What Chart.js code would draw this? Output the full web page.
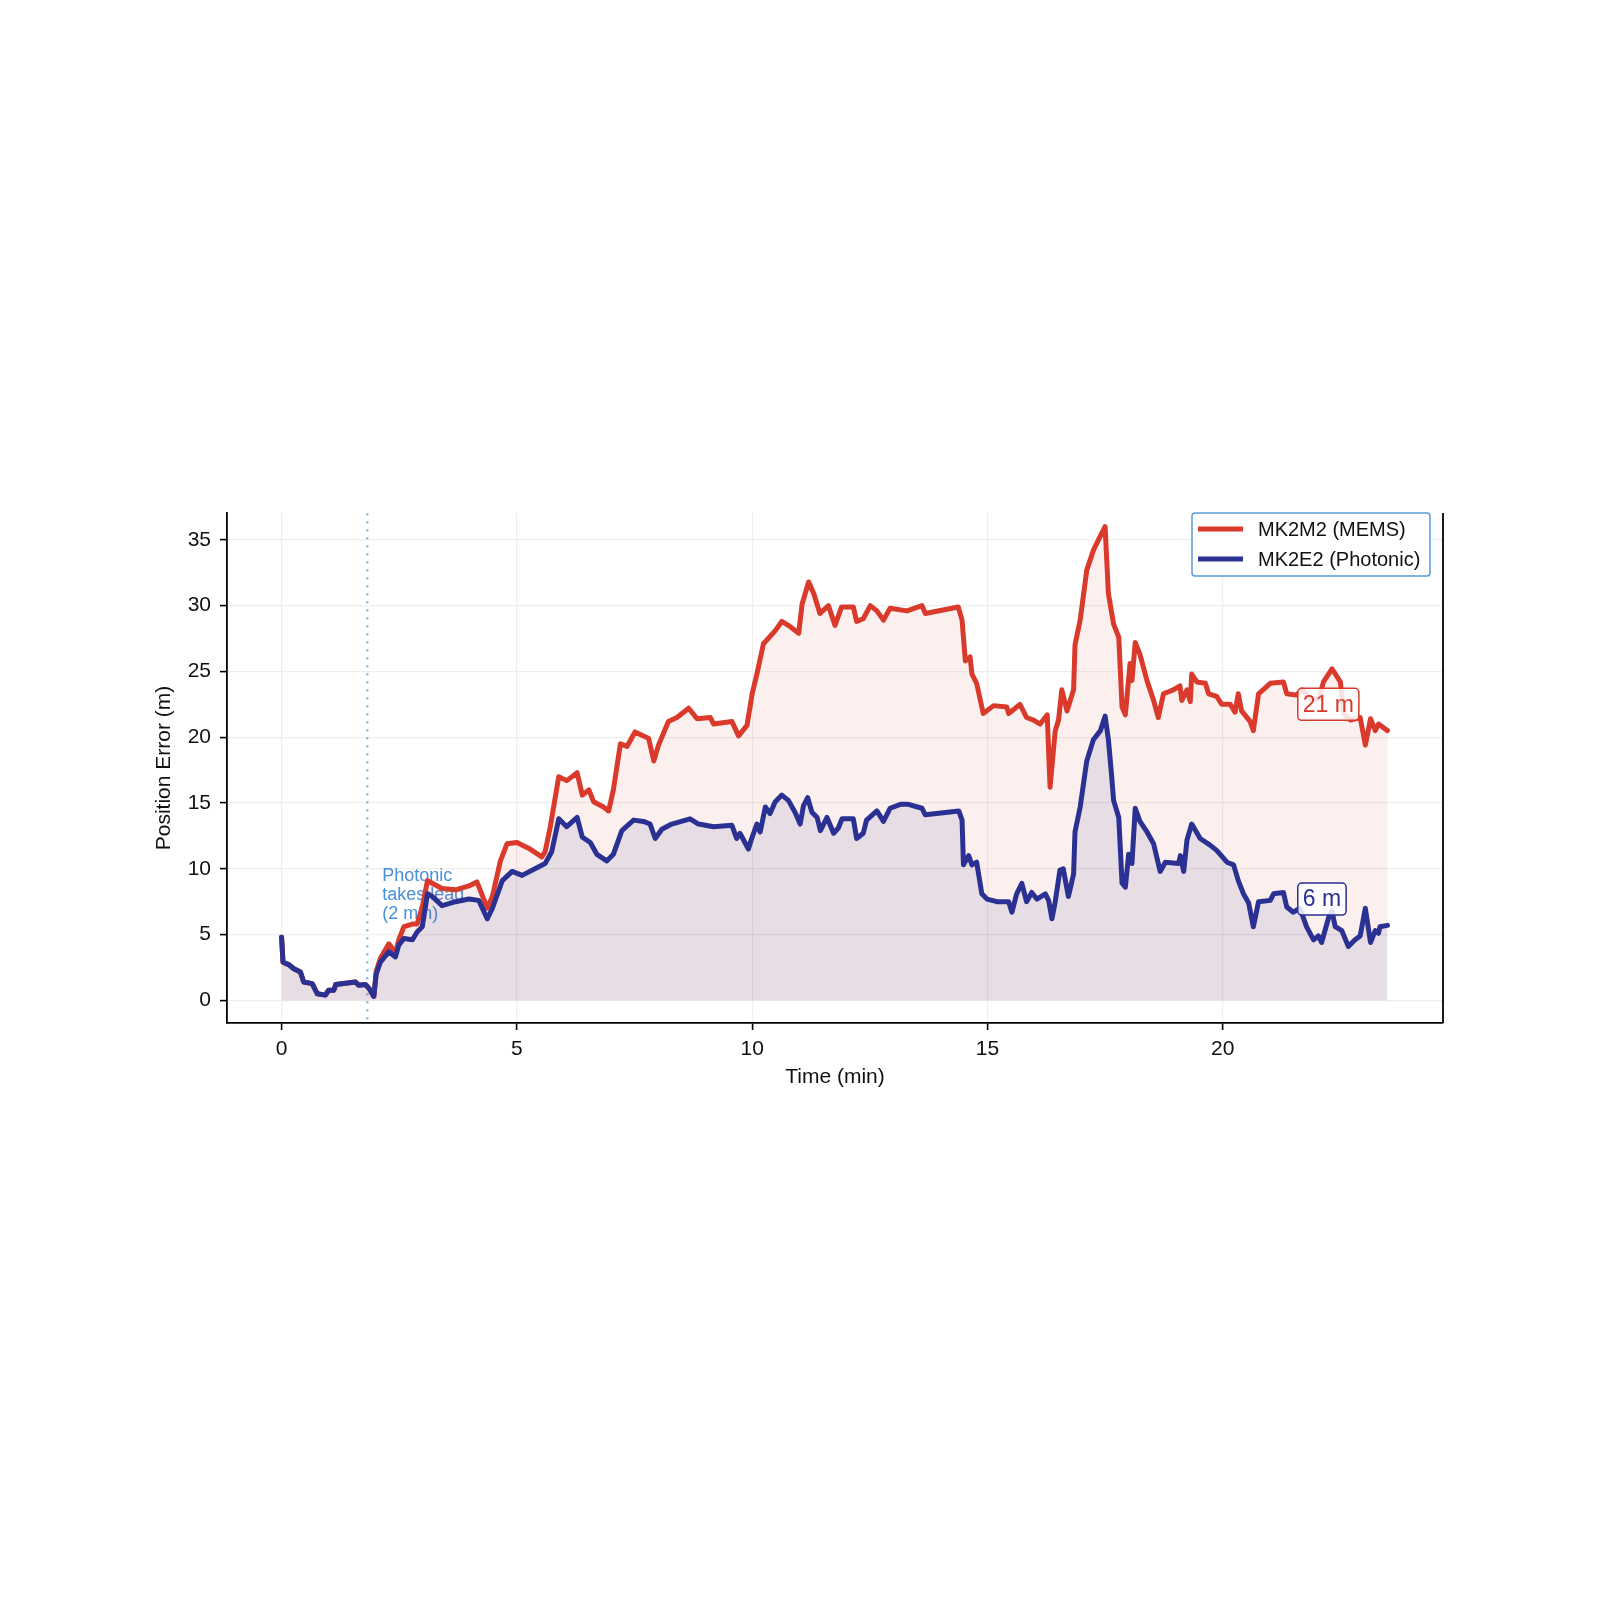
<!DOCTYPE html>
<html>
<head>
<meta charset="utf-8">
<script src="https://cdn.jsdelivr.net/npm/chart.js@4.4.1/dist/chart.umd.min.js"></script>
<style>
  html, body { margin: 0; padding: 0; background: #fff; }
  #wrap { width: 1600px; height: 1600px; }
</style>
</head>
<body>
<div id="wrap"><canvas id="chart"></canvas></div>
<script>
// MK2M2 (MEMS) position error
const memsTime = [0, 0.03, 0.16, 0.26, 0.4, 0.47, 0.65, 0.76, 0.93, 1.0, 1.11, 1.15, 1.57, 1.64, 1.78, 1.86, 1.96,
  2.01, 2.1, 2.28, 2.42, 2.49, 2.6, 2.78, 2.88, 2.99, 3.1, 3.2, 3.41, 3.7, 3.98, 4.15, 4.22, 4.37, 4.48, 4.65, 4.79,
  5.0, 5.28, 5.53, 5.6, 5.71, 5.89, 6.06, 6.28, 6.39, 6.53, 6.63, 6.84, 6.95, 7.05, 7.2, 7.34, 7.51, 7.69, 7.8, 7.91,
  8.01, 8.22, 8.4, 8.65, 8.83, 9.11, 9.18, 9.57, 9.71, 9.89, 10.0, 10.1, 10.24, 10.49, 10.63, 10.81, 10.99, 11.06,
  11.2, 11.31, 11.44, 11.62, 11.76, 11.9, 12.15, 12.22, 12.36, 12.51, 12.65, 12.79, 12.93, 13.29, 13.61, 13.68,
  14.38, 14.46, 14.53, 14.63, 14.67, 14.77, 14.91, 15.13, 15.41, 15.45, 15.69, 15.83, 15.98, 16.12, 16.27, 16.33,
  16.44, 16.51, 16.58, 16.69, 16.83, 16.86, 16.97, 17.11, 17.25, 17.4, 17.5, 17.57, 17.68, 17.79, 17.86, 17.93,
  18.03, 18.07, 18.14, 18.24, 18.39, 18.53, 18.63, 18.74, 18.95, 19.09, 19.13, 19.24, 19.31, 19.34, 19.45, 19.63,
  19.7, 19.87, 19.98, 20.16, 20.26, 20.33, 20.4, 20.58, 20.65, 20.76, 21.01, 21.29, 21.36, 21.57, 21.68, 21.9,
  22.05, 22.14, 22.32, 22.5, 22.57, 22.71, 22.92, 23.03, 23.14, 23.24, 23.31, 23.5];
const memsError = [4.8, 2.9, 2.7, 2.4, 2.15, 1.4, 1.27, 0.5, 0.4, 0.77, 0.77, 1.2, 1.4, 1.15, 1.2, 0.9, 0.3,
  2.2, 3.2, 4.3, 3.6, 4.6, 5.6, 5.8, 5.8, 7.1, 9.1, 8.9, 8.5, 8.4, 8.7, 9.0, 8.4, 7.0, 7.9, 10.6, 11.9,
  12.0, 11.5, 10.9, 11.3, 13.2, 17.0, 16.7, 17.3, 15.6, 16.0, 15.1, 14.7, 14.4, 16.0, 19.5, 19.3, 20.4, 20.1, 19.9, 18.2,
  19.4, 21.2, 21.5, 22.2, 21.4, 21.5, 21.0, 21.2, 20.1, 20.9, 23.3, 24.8, 27.1, 28.1, 28.8, 28.4, 27.9, 30.1,
  31.8, 30.9, 29.4, 30.0, 28.5, 29.9, 29.9, 28.8, 29.0, 30.0, 29.6, 28.9, 29.8, 29.6, 30.0, 29.4,
  29.9, 28.9, 25.8, 26.1, 24.8, 24.1, 21.8, 22.4, 22.3, 21.8, 22.5, 21.5, 21.3, 21.0, 21.7, 16.2,
  20.5, 21.3, 23.6, 22.0, 23.6, 27.0, 28.9, 32.7, 34.2, 35.3, 36.0, 30.9, 28.6, 27.6, 22.3, 21.7,
  25.6, 24.3, 27.2, 26.3, 24.3, 22.8, 21.5, 23.3, 23.6, 23.9, 22.8, 23.6, 22.7, 24.8, 24.2, 24.1,
  23.3, 23.1, 22.5, 22.5, 21.9, 23.3, 22.0, 21.2, 20.5, 23.3, 24.1, 24.2, 23.3, 23.2, 23.6, 22.8,
  23.0, 24.2, 25.2, 24.2, 21.8, 21.3, 21.5, 19.4, 21.4, 20.5, 21.0, 20.5];

// MK2E2 (Photonic) position error
const photTime = [0, 0.03, 0.16, 0.26, 0.4, 0.47, 0.65, 0.76, 0.93, 1.0, 1.11, 1.15, 1.57, 1.64, 1.78, 1.86, 1.96,
  2.01, 2.1, 2.28, 2.42, 2.49, 2.6, 2.78, 2.88, 2.99, 3.1, 3.2, 3.41, 3.7, 3.98, 4.19, 4.37, 4.48, 4.69, 4.9, 5.11,
  5.6, 5.74, 5.89, 6.06, 6.28, 6.39, 6.56, 6.7, 6.91, 7.05, 7.23, 7.48, 7.69, 7.83, 7.94, 8.08, 8.29, 8.68, 8.86,
  9.18, 9.57, 9.67, 9.74, 9.92, 9.99, 10.1, 10.17, 10.28, 10.38, 10.49, 10.63, 10.77, 10.91, 11.02, 11.09, 11.18,
  11.27, 11.38, 11.45, 11.59, 11.73, 11.83, 11.91, 12.15, 12.22, 12.36, 12.43, 12.65, 12.79, 12.93, 13.15, 13.32,
  13.61, 13.68, 14.39, 14.46, 14.49, 14.6, 14.67, 14.77, 14.88, 14.99, 15.2, 15.45, 15.52, 15.62, 15.73, 15.83,
  15.94, 16.05, 16.23, 16.3, 16.37, 16.44, 16.54, 16.61, 16.72, 16.83, 16.86, 16.97, 17.11, 17.25, 17.4, 17.5,
  17.57, 17.64, 17.68, 17.79, 17.86, 17.93, 18.0, 18.07, 18.14, 18.24, 18.39, 18.53, 18.67, 18.78, 19.06, 19.1,
  19.17, 19.24, 19.34, 19.52, 19.73, 19.87, 20.09, 20.23, 20.33, 20.44, 20.55, 20.65, 20.76, 21.01, 21.08, 21.29,
  21.36, 21.5, 21.64, 21.78, 21.93, 22.03, 22.1, 22.25, 22.32, 22.39, 22.53, 22.67, 22.81, 22.92, 23.03, 23.14,
  23.24, 23.31, 23.34, 23.5];
const photError = [4.8, 2.9, 2.7, 2.4, 2.15, 1.4, 1.27, 0.5, 0.4, 0.77, 0.77, 1.2, 1.4, 1.15, 1.2, 0.9, 0.3,
  2.0, 2.9, 3.7, 3.3, 4.2, 4.7, 4.6, 5.2, 5.6, 8.1, 7.9, 7.2, 7.5, 7.7, 7.6, 6.2, 7.0, 9.1, 9.8, 9.5,
  10.4, 11.3, 13.8, 13.2, 13.9, 12.4, 12.0, 11.1, 10.6, 11.1, 12.9, 13.7, 13.6, 13.4, 12.3, 13.0, 13.4, 13.8, 13.4,
  13.2, 13.3, 12.3, 12.7, 11.5, 12.3, 13.4, 12.8, 14.7, 14.2, 15.1, 15.6, 15.2, 14.3, 13.4, 14.8, 15.4,
  14.3, 13.9, 12.9, 13.9, 12.7, 13.1, 13.8, 13.8, 12.3, 12.7, 13.7, 14.4, 13.6, 14.6, 14.9, 14.9,
  14.6, 14.1, 14.4, 13.7, 10.3, 11.0, 10.3, 10.5, 8.1, 7.7, 7.5, 7.5, 6.7, 8.1, 8.9, 7.5,
  8.2, 7.7, 8.1, 7.6, 6.2, 7.5, 9.9, 10.0, 7.9, 9.6, 12.8, 14.7, 18.2, 19.8, 20.5, 21.6,
  19.8, 17.0, 15.2, 13.9, 8.9, 8.6, 11.1, 10.4, 14.6, 13.6, 12.8, 11.9, 9.8, 10.5, 10.4, 11.0,
  9.8, 12.2, 13.4, 12.3, 11.8, 11.4, 10.5, 10.3, 9.1, 8.1, 7.4, 5.6, 7.5, 7.6, 8.1, 8.2,
  7.1, 6.7, 7.0, 5.6, 4.6, 4.9, 4.4, 6.3, 6.8, 5.6, 5.3, 4.1, 4.6, 4.9, 7.0, 4.4,
  5.3, 5.1, 5.6, 5.7];

const seriesNames = ['MK2M2 (MEMS)', 'MK2E2 (Photonic)'];
const seriesColors = ['#d93a2c', '#2b3192'];
const seriesFills = ['rgba(217,58,44,0.08)', 'rgba(43,49,146,0.10)'];

const xTicks = [0, 5, 10, 15, 20];
const yTicks = [0, 5, 10, 15, 20, 25, 30, 35];
const xRange = [-1.16, 24.68];
const yRange = [-1.72, 37.04];

// annotation: when the photonic unit takes the lead
const leadTime = 1.82;
const leadNote = ['Photonic', 'takes lead', '(2 min)'];
const leadNoteAt = [2.14, 9.1];

// final error labels
const endLabels = ['21 m', '6 m'];
const endLabelTime = 21.7;
const endLabelLevels = [22.5, 7.7];

const FONT = '"Liberation Sans", Arial, Helvetica, sans-serif';
Chart.defaults.font.family = FONT;
Chart.defaults.color = '#111';

const zip = (ts, vs) => ts.map((t, i) => ({x: t, y: vs[i]}));

const overlay = {
  id: 'overlay',
  beforeDatasetsDraw(chart) {
    const {ctx, chartArea, scales: {x, y}} = chart;
    ctx.save();
    const px = x.getPixelForValue(leadTime);
    ctx.strokeStyle = 'rgba(74,144,217,0.55)';
    ctx.lineWidth = 2.5;
    ctx.setLineDash([2.5, 5.5]);
    ctx.beginPath();
    ctx.moveTo(px, chartArea.top);
    ctx.lineTo(px, chartArea.bottom);
    ctx.stroke();
    ctx.setLineDash([]);

    ctx.fillStyle = '#4a90d9';
    ctx.font = '18px ' + FONT;
    ctx.textAlign = 'left';
    ctx.textBaseline = 'alphabetic';
    const nx = x.getPixelForValue(leadNoteAt[0]);
    const ny = y.getPixelForValue(leadNoteAt[1]);
    leadNote.forEach((line, i) => ctx.fillText(line, nx, ny + i * 19));
    ctx.restore();
  },
  afterDraw(chart) {
    const {ctx, chartArea, scales: {x, y}} = chart;
    ctx.save();

    // right spine
    ctx.strokeStyle = '#000';
    ctx.lineWidth = 1.8;
    ctx.beginPath();
    ctx.moveTo(chartArea.right, chartArea.top);
    ctx.lineTo(chartArea.right, chartArea.bottom);
    ctx.stroke();

    // end value labels
    ctx.font = '23px ' + FONT;
    ctx.textBaseline = 'middle';
    ctx.textAlign = 'left';
    endLabels.forEach((txt, i) => {
      const tx = x.getPixelForValue(endLabelTime);
      const ty = y.getPixelForValue(endLabelLevels[i]);
      const w = ctx.measureText(txt).width;
      ctx.beginPath();
      ctx.roundRect(tx - 5, ty - 16, w + 10, 32, 4);
      ctx.fillStyle = 'rgba(255,255,255,0.85)';
      ctx.fill();
      ctx.strokeStyle = seriesColors[i];
      ctx.lineWidth = 1.5;
      ctx.stroke();
      ctx.fillStyle = seriesColors[i];
      ctx.fillText(txt, tx, ty + 1);
    });

    // legend
    const lw = 238, lh = 63;
    const lx = chartArea.right - 13 - lw, ly = chartArea.top;
    ctx.beginPath();
    ctx.roundRect(lx, ly, lw, lh, 3);
    ctx.fillStyle = '#fff';
    ctx.fill();
    ctx.strokeStyle = '#5b9bd5';
    ctx.lineWidth = 1.5;
    ctx.stroke();
    ctx.font = '20px ' + FONT;
    seriesNames.forEach((name, i) => {
      const rowY = ly + 16 + i * 30;
      ctx.strokeStyle = seriesColors[i];
      ctx.lineWidth = 5;
      ctx.beginPath();
      ctx.moveTo(lx + 6, rowY);
      ctx.lineTo(lx + 51, rowY);
      ctx.stroke();
      ctx.fillStyle = '#111';
      ctx.fillText(name, lx + 66, rowY + 1);
    });
    ctx.restore();
  }
};

new Chart(document.getElementById('chart'), {
  type: 'line',
  data: {
    datasets: [
      {
        label: seriesNames[0],
        data: zip(memsTime, memsError),
        borderColor: seriesColors[0],
        backgroundColor: seriesFills[0],
        fill: 'origin',
        borderWidth: 5,
        pointRadius: 0,
        tension: 0,
        borderJoinStyle: 'round',
        borderCapStyle: 'round',
        order: 2
      },
      {
        label: seriesNames[1],
        data: zip(photTime, photError),
        borderColor: seriesColors[1],
        backgroundColor: seriesFills[1],
        fill: 'origin',
        borderWidth: 5,
        pointRadius: 0,
        tension: 0,
        borderJoinStyle: 'round',
        borderCapStyle: 'round',
        order: 1
      }
    ]
  },
  options: {
    responsive: true,
    maintainAspectRatio: false,
    devicePixelRatio: 1,
    animation: false,
    layout: { padding: { left: 140, top: 513, right: 157, bottom: 497 } },
    plugins: {
      legend: { display: false },
      tooltip: { enabled: false }
    },
    scales: {
      x: {
        type: 'linear',
        min: xRange[0],
        max: xRange[1],
        afterFit: (scale) => { scale.height = 80; },
        afterBuildTicks: (scale) => { scale.ticks = xTicks.map(v => ({value: v})); },
        grid: { color: '#eeeeee', lineWidth: 1.2, tickLength: 7, tickColor: '#000', tickWidth: 1.6 },
        border: { color: '#000', width: 1.8 },
        ticks: { font: { size: 21 }, padding: 7, color: '#111', maxRotation: 0 },
        title: { display: true, text: 'Time (min)', font: { size: 21 }, color: '#111', padding: { top: 0, bottom: 13 } }
      },
      y: {
        type: 'linear',
        min: yRange[0],
        max: yRange[1],
        afterFit: (scale) => { scale.width = 87; },
        afterBuildTicks: (scale) => { scale.ticks = yTicks.map(v => ({value: v})); },
        grid: { color: '#eeeeee', lineWidth: 1.2, tickLength: 7, tickColor: '#000', tickWidth: 1.6 },
        border: { color: '#000', width: 1.8 },
        ticks: { font: { size: 21 }, padding: 9, color: '#111' },
        title: { display: true, text: 'Position Error (m)', font: { size: 21 }, color: '#111', padding: { top: 12, bottom: 0 } }
      }
    }
  },
  plugins: [overlay]
});
</script>
</body>
</html>
